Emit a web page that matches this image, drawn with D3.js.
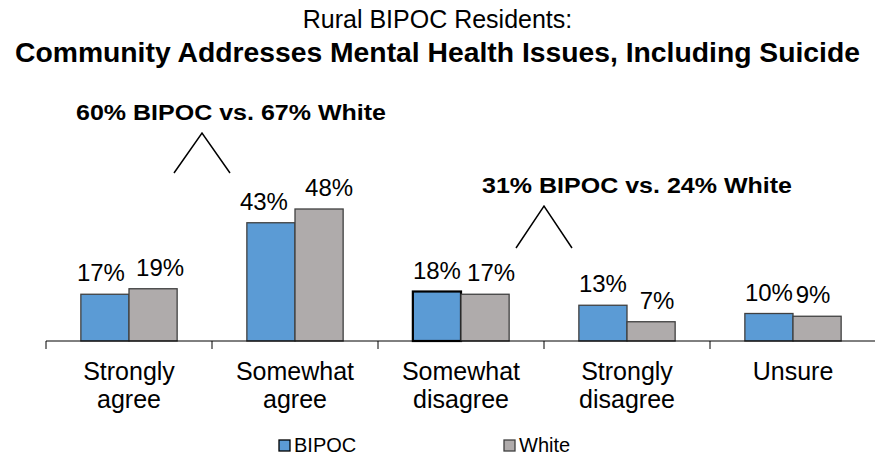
<!DOCTYPE html>
<html>
<head>
<meta charset="utf-8">
<script src="https://cdn.jsdelivr.net/npm/d3@7/dist/d3.min.js"></script>
<style>
  html, body { margin: 0; padding: 0; background: #fff; }
  svg { display: block; font-family: "Liberation Sans", Arial, sans-serif; }
</style>
</head>
<body>
<svg id="chart" width="875" height="456"></svg>
<script>
// Survey responses, share of respondents (%)
const categories = [["Strongly", "agree"], ["Somewhat", "agree"], ["Somewhat", "disagree"], ["Strongly", "disagree"], ["Unsure"]];
const seriesNames = ["BIPOC", "White"];
const bipocValues = [17, 43, 18, 13, 10];
const whiteValues = [19, 48, 17, 7, 9];
const seriesColors = ["#5B9BD5", "#AFABAB"];

// Combined agree / disagree call-outs
const callouts = [
  { text: "60% BIPOC vs. 67% White", after: 0 },
  { text: "31% BIPOC vs. 24% White", after: 2 }
];

// Horizontal nudges for value labels so neighbouring labels don't collide
const bipocLabelNudge = [-4, -7, 0, 0, 0];
const whiteLabelNudge = [7, 10, 6, 6, -4];

const svg = d3.select("#chart");
const W = 875;
const baseY = 341;

const keys = categories.map(c => c.join(" "));
const x = d3.scaleBand().domain(keys).range([46, 876]).paddingInner(0.42).paddingOuter(0.21);
const xs = d3.scaleBand().domain(seriesNames).range([0, x.bandwidth()]);
const y = d3.scaleLinear().domain([0, 60]).range([baseY, baseY - 165]);

// Titles
svg.append("text").attr("x", W / 2).attr("y", 28).attr("text-anchor", "middle")
  .attr("font-size", 25).attr("fill", "#000").text("Rural BIPOC Residents:");
svg.append("text").attr("x", W / 2).attr("y", 62).attr("text-anchor", "middle")
  .attr("font-size", 28).attr("font-weight", "bold").attr("fill", "#000")
  .attr("textLength", 845).attr("lengthAdjust", "spacingAndGlyphs")
  .text("Community Addresses Mental Health Issues, Including Suicide");

// Bars
const rows = keys.map((k, i) => ({ key: k, values: [bipocValues[i], whiteValues[i]] }));
const groups = svg.append("g").selectAll("g").data(rows).join("g")
  .attr("transform", d => `translate(${x(d.key)},0)`);

groups.selectAll("rect").data((d, i) => d.values.map((v, j) => ({ v, j, i }))).join("rect")
  .attr("x", d => xs(seriesNames[d.j]))
  .attr("y", d => y(d.v))
  .attr("width", xs.bandwidth())
  .attr("height", d => baseY - y(d.v))
  .attr("fill", d => seriesColors[d.j])
  .attr("stroke", d => (d.i === 2 && d.j === 0) ? "#000" : "#404040")
  .attr("stroke-width", d => (d.i === 2 && d.j === 0) ? 2.2 : 1.3);

const nudges = [bipocLabelNudge, whiteLabelNudge];
groups.selectAll("text.val").data((d, i) => d.values.map((v, j) => ({ v, j, i }))).join("text")
  .attr("class", "val")
  .attr("x", d => xs(seriesNames[d.j]) + xs.bandwidth() / 2 + nudges[d.j][d.i])
  .attr("y", d => y(d.v) - 13)
  .attr("text-anchor", "middle")
  .attr("font-size", 24)
  .attr("fill", "#000")
  .text(d => d.v + "%");

// Category axis
const axis = svg.append("g");
axis.append("line").attr("x1", 46).attr("x2", W).attr("y1", baseY).attr("y2", baseY)
  .attr("stroke", "#000").attr("stroke-width", 1);
const boundaries = keys.map(k => x(k) - (x.step() - x.bandwidth()) / 2);
axis.selectAll("line.tick").data(boundaries).join("line").attr("class", "tick")
  .attr("x1", d => d).attr("x2", d => d).attr("y1", baseY).attr("y2", baseY + 8)
  .attr("stroke", "#000").attr("stroke-width", 1);

axis.selectAll("text.cat").data(categories).join("text").attr("class", "cat")
  .attr("x", (d, i) => x(keys[i]) + x.bandwidth() / 2)
  .attr("y", 380)
  .attr("text-anchor", "middle")
  .attr("font-size", 25)
  .attr("fill", "#000")
  .selectAll("tspan").data(d => d).join("tspan")
  .attr("x", function () { return d3.select(this.parentNode).attr("x"); })
  .attr("dy", (d, i) => i === 0 ? 0 : 28)
  .text(d => d);

// Call-outs with caret marks
const calloutLayout = [
  { dx: -10, textDx: 29, textY: 120, apexY: 133, half: 28, drop: 40 },
  { dx: 0, textDx: 93, textY: 193, apexY: 206, half: 28, drop: 42 }
];
callouts.forEach((c, k) => {
  const L = calloutLayout[k];
  const ax = x(keys[c.after + 1]) - (x.step() - x.bandwidth()) / 2 + L.dx;
  svg.append("text").attr("x", ax + L.textDx).attr("y", L.textY).attr("text-anchor", "middle")
    .attr("font-size", 22).attr("font-weight", "bold").attr("fill", "#000")
    .attr("textLength", 310).attr("lengthAdjust", "spacingAndGlyphs")
    .text(c.text);
  svg.append("path")
    .attr("d", d3.line()([[ax - L.half, L.apexY + L.drop], [ax, L.apexY], [ax + L.half, L.apexY + L.drop]]))
    .attr("fill", "none").attr("stroke", "#000").attr("stroke-width", 1.5);
});

// Legend
const legendX = [279, 504];
const legend = svg.append("g").selectAll("g").data(seriesNames).join("g")
  .attr("transform", (d, i) => `translate(${legendX[i]},0)`);
legend.append("rect").attr("x", 0).attr("y", 440).attr("width", 11).attr("height", 11)
  .attr("fill", (d, i) => seriesColors[i])
  .attr("stroke", (d, i) => i === 0 ? "#000" : "#404040").attr("stroke-width", 1.3);
legend.append("text").attr("x", 15).attr("y", 452).attr("font-size", 20).attr("fill", "#000")
  .text(d => d);
</script>
</body>
</html>
